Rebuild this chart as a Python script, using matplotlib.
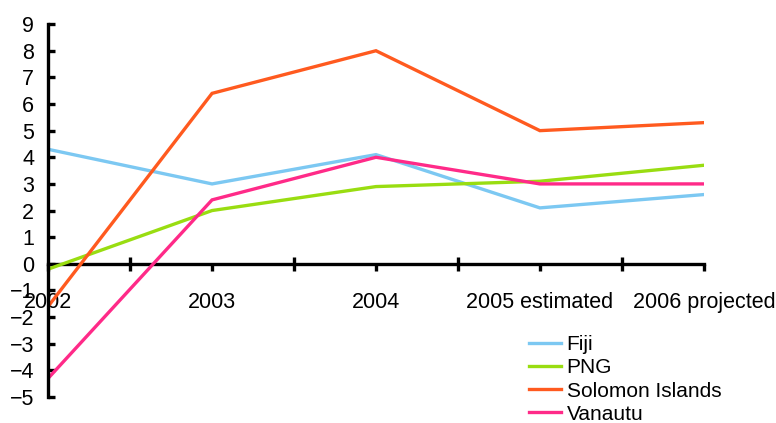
import numpy as np
import matplotlib
matplotlib.use("Agg")
from matplotlib import pyplot as plt
from matplotlib.ticker import MultipleLocator

years = ["2002", "2003", "2004", "2005 estimated", "2006 projected"]
fiji = [4.3, 3.0, 4.1, 2.1, 2.6]
png = [-0.2, 2.0, 2.9, 3.1, 3.7]
solomon = [-1.6, 6.4, 8.0, 5.0, 5.3]
vanuatu = [-4.3, 2.4, 4.0, 3.0, 3.0]

series = [
    ("Fiji", fiji, "#7cc8f2"),
    ("PNG", png, "#99dd11"),
    ("Solomon Islands", solomon, "#ff5a1f"),
    ("Vanautu", vanuatu, "#ff2a88"),
]

plt.rcParams["font.family"] = ["Liberation Sans", "DejaVu Sans"]
plt.rcParams["font.size"] = 15.5

fig = plt.figure(figsize=(7.76, 4.23), dpi=100)
ax = fig.add_axes([0.062, 0.0615, 0.845, 0.8815])

x = np.arange(len(years))
for name, vals, col in series:
    ax.plot(x, vals, color=col, lw=2.4, label=name, solid_joinstyle="miter")

ax.set_xlim(0, len(years) - 1)
ax.set_ylim(-5, 9)

# axis styling: x axis runs through zero
for s in ["top", "right"]:
    ax.spines[s].set_visible(False)
ax.spines["bottom"].set_position(("data", 0))
ax.spines["bottom"].set_linewidth(2.4)
ax.spines["left"].set_linewidth(2.4)
ax.spines["bottom"].set_zorder(1)

ax.set_xticks(x)
ax.set_xticklabels(years)
ax.xaxis.set_minor_locator(MultipleLocator(0.5))
ax.tick_params(axis="x", which="major", direction="out", length=5, width=2.4, pad=15)
ax.tick_params(axis="x", which="minor", direction="inout", length=10, width=2.4)

ax.yaxis.set_major_locator(MultipleLocator(1))
ax.tick_params(axis="y", direction="in", length=5, width=2.4, pad=10)

ax.legend(loc="upper left", bbox_to_anchor=(0.663, 0.242), bbox_transform=fig.transFigure,
          frameon=False, fontsize=15, handlelength=1.55, handletextpad=0.25,
          labelspacing=0.2, borderpad=0.2)

fig.savefig("out.png", dpi=100)
